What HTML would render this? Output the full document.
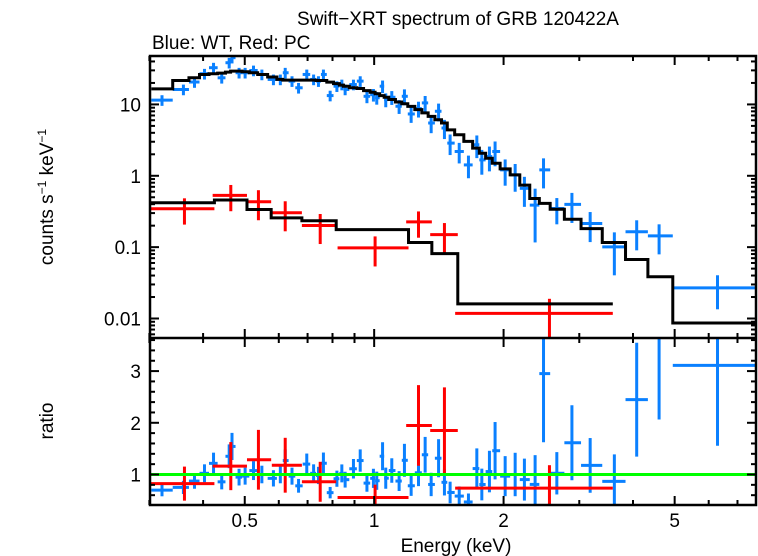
<!DOCTYPE html>
<html><head><meta charset="utf-8"><style>
html,body{margin:0;padding:0;background:#fff;}
svg{display:block;font-family:"Liberation Sans",sans-serif;}
</style></head><body>
<svg id="chart" width="758" height="556" viewBox="0 0 758 556" xmlns="http://www.w3.org/2000/svg">
<text x="458" y="25" font-size="19" text-anchor="middle">Swift−XRT spectrum of GRB 120422A</text>
<text x="152" y="49" font-size="19">Blue: WT, Red: PC</text>
<text transform="translate(53,197) rotate(-90)" font-size="19" text-anchor="middle">counts s<tspan font-size="12" dy="-7">−1</tspan><tspan dy="7"> keV</tspan><tspan font-size="12" dy="-7">−1</tspan></text>
<text transform="translate(53,421) rotate(-90)" font-size="19" text-anchor="middle">ratio</text>
<text x="456" y="552" font-size="19" text-anchor="middle">Energy (keV)</text>
<g id="plot"></g>
</svg>
<script>
// Blue (WT) data: energy centers (keV), counts, relative errors, model
const blueEnergy=[0.321,0.360,0.382,0.403,0.423,0.442,0.460,0.467,0.485,0.501,0.524,0.548,0.583,0.605,0.621,0.644,0.667,0.697,0.723,0.742,0.762,0.790,0.819,0.841,0.856,0.895,0.928,0.962,0.996,1.014,1.046,1.064,1.099,1.143,1.176,1.219,1.268,1.314,1.357,1.412,1.457,1.502,1.577,1.657,1.733,1.780,1.854,1.911,2.017,2.128,2.236,2.368,2.477,2.66,2.884,3.18,3.62,4.08,4.60,6.29];
const blueCounts=[11.5,16.2,20.6,26.9,32.7,23.6,38.4,45.2,27.8,27.8,29.9,26.3,22.4,22.4,27.8,21.2,17.1,26.3,22.4,21.2,26.3,13.3,18.0,19.0,16.2,19.0,21.2,13.0,13.7,12.4,18.0,11.7,12.6,9.43,13.0,7.35,8.73,10.5,5.49,8.02,4.67,2.87,2.19,1.42,2.72,1.67,1.86,2.19,1.21,1.03,0.667,0.388,1.21,0.348,0.397,0.214,0.1007,0.164,0.144,0.0269];
const blueRelErr=[0.17,0.17,0.17,0.17,0.17,0.17,0.17,0.17,0.17,0.17,0.17,0.17,0.17,0.17,0.17,0.17,0.17,0.17,0.17,0.17,0.17,0.17,0.17,0.17,0.17,0.17,0.17,0.2,0.2,0.2,0.2,0.22,0.22,0.22,0.25,0.25,0.25,0.25,0.28,0.28,0.3,0.32,0.32,0.35,0.35,0.38,0.38,0.38,0.4,0.42,0.45,0.7,0.45,0.4,0.45,0.45,0.6,0.45,0.45,0.5];
const blueModel=[16.5,21.6,23.6,26.3,26.9,27.5,28.4,29.3,29.3,28.7,27.8,26.3,24.2,22.4,21.9,21.9,21.9,21.9,21.9,21.6,21.6,20.5,19.6,18.6,18.0,17.1,16.7,15.6,14.8,14.1,13.3,12.6,11.7,10.8,10.2,9.4,8.45,7.6,6.8,6.1,5.5,4.4,3.76,3.03,2.44,2.07,1.76,1.50,1.25,1.03,0.74,0.48,0.41,0.34,0.246,0.182,0.116,0.067,0.0384,0.00865];
const blueLastBinLo=4.95;
// Red (PC) data
const redLo=[0.300,0.421,0.506,0.578,0.679,0.822,1.187,1.350,1.543];
const redHi=[0.425,0.506,0.576,0.679,0.816,1.202,1.362,1.565,3.59];
const redEnergy=[0.362,0.464,0.538,0.621,0.749,1.005,1.268,1.457,2.557];
const redCounts=[0.345,0.531,0.433,0.303,0.201,0.0975,0.226,0.150,0.0118];
const redRelErr=[0.4,0.4,0.45,0.45,0.45,0.45,0.4,0.45,0.6];
const redModelLo=[0.300,0.425,0.506,0.576,0.679,0.816,1.202,1.362,1.565];
const redModelHi=[0.425,0.506,0.576,0.679,0.816,1.202,1.362,1.565,3.59];
const redModel=[0.419,0.457,0.337,0.257,0.234,0.176,0.116,0.081,0.016];
const xTicksMajor=[0.5,1,2,5];
const xTickLabels=["0.5","1","2","5"];
const xTicksMinor=[0.3,0.4,0.6,0.7,0.8,0.9,3,4,6,7];
const yTopLabels=["10","1","0.1","0.01"];
const yTopTicks=[10,1,0.1,0.01];
const yRatioTicks=[1,2,3];
const yRatioLabels=["1","2","3"];

const L=150,R=756,T=56,M=338,B=505;
const xLogMin=Math.log10(0.301),xLogMax=Math.log10(7.73);
const X=e=>L+(Math.log10(e)-xLogMin)/(xLogMax-xLogMin)*(R-L);
const yLogMin=Math.log10(0.00533),yLogMax=Math.log10(47.7);
const YT=v=>M-(Math.log10(v)-yLogMin)/(yLogMax-yLogMin)*(M-T);
const rMin=0.41,rMax=3.64;
const YR=v=>B-(v-rMin)/(rMax-rMin)*(B-M);
const NS="http://www.w3.org/2000/svg";
const plot=document.getElementById('plot');
function mk(tag,at,parent){const el=document.createElementNS(NS,tag);for(const k in at)el.setAttribute(k,at[k]);(parent||plot).appendChild(el);return el;}
function ln(x1,y1,x2,y2,c,w,p){return mk('line',{x1,y1,x2,y2,stroke:c,'stroke-width':w},p);}
const clipT=mk('clipPath',{id:'ct'});mk('rect',{x:L,y:T,width:R-L,height:M-T},clipT);
const clipB=mk('clipPath',{id:'cb'});mk('rect',{x:L,y:M,width:R-L,height:B-M},clipB);
const gT=mk('g',{'clip-path':'url(#ct)'});


const gB=mk('g',{'clip-path':'url(#cb)'});



const n=blueEnergy.length;const bLo=[],bHi=[];
for(let i=0;i<n;i++){
  let lo=i>0?Math.sqrt(blueEnergy[i-1]*blueEnergy[i]):blueEnergy[0]*blueEnergy[0]/Math.sqrt(blueEnergy[0]*blueEnergy[1]);
  let hi=i<n-1?Math.sqrt(blueEnergy[i]*blueEnergy[i+1]):8;
  if(i===n-1)lo=blueLastBinLo;
  if(i===n-2)hi=blueLastBinLo;
  bLo.push(lo);bHi.push(hi);
}
function stepPath(lo,hi,vals,Y){let d='';for(let i=0;i<vals.length;i++){const y=Y(vals[i]);d+=(i===0?'M':'L')+X(lo[i])+','+y+'L'+X(hi[i])+','+y;}return d;}
const BLUE='#0a80ff',RED='#ff0000';
for(let i=0;i<n;i++){
  const g=mk('g',{},gT);
  
  
  const v=blueCounts[i],e=blueRelErr[i]*v,y=YT(v),x=X(blueEnergy[i]);
  ln(X(bLo[i]),y,X(bHi[i]),y,BLUE,3,g);
  ln(x,YT(v+e),x,YT(Math.max(v-e,1e-4)),BLUE,3,g);
  const r=v/blueModel[i],re=blueRelErr[i]*r,yr=YR(r);
  const g2=mk('g',{},gB);
  
  
  ln(X(bLo[i]),yr,X(bHi[i]),yr,BLUE,3,g2);
  ln(x,YR(r+re),x,YR(r-re),BLUE,3,g2);
}
for(let i=0;i<redEnergy.length;i++){
  const g=mk('g',{},gT);
  
  
  const v=redCounts[i],e=redRelErr[i]*v,y=YT(v),x=X(redEnergy[i]);
  ln(X(redLo[i]),y,X(redHi[i]),y,RED,3,g);
  ln(x,YT(v+e),x,YT(Math.max(v-e,1e-4)),RED,3,g);
  const r=v/redModel[i],re=redRelErr[i]*r,yr=YR(r);
  const g2=mk('g',{},gB);
  
  
  ln(X(redLo[i]),yr,X(redHi[i]),yr,RED,3,g2);
  ln(x,YR(r+re),x,YR(r-re),RED,3,g2);
}
const bm=mk('path',{d:stepPath(bLo,bHi,blueModel,YT),fill:'none',stroke:'#000','stroke-width':3},gT);


const rm=mk('path',{d:stepPath(redModelLo,redModelHi,redModel,YT),fill:'none',stroke:'#000','stroke-width':3},gT);


const gl=ln(L,YR(1),R,YR(1),'#00ff00',3,gB);



const ax=mk('g',{});


mk('rect',{x:L,y:T,width:R-L,height:B-T,fill:'none',stroke:'#000','stroke-width':2.5},ax);
ln(L,M,R,M,'#000',2.5,ax);
function xt(e,len){const x=X(e);
  ln(x,T,x,T+len,'#000',2,ax);ln(x,M,x,M-len,'#000',2,ax);
  ln(x,M,x,M+len,'#000',2,ax);ln(x,B,x,B-len,'#000',2,ax);}
xTicksMajor.forEach((e,i)=>{xt(e,9);
  const t=mk('text',{x:X(e),y:B+22,'font-size':19,'text-anchor':'middle'},ax);t.textContent=xTickLabels[i];
  
  });
xTicksMinor.forEach(e=>xt(e,5));
for(let d=-3;d<=1;d++){for(let k=1;k<=9;k++){const v=k*Math.pow(10,d);if(v<0.00533||v>47.7)continue;
  const y=YT(v),len=k===1?9:5;ln(L,y,L+len,y,'#000',2,ax);ln(R,y,R-len,y,'#000',2,ax);}}
yTopTicks.forEach((v,i)=>{const t=mk('text',{x:L-9,y:YT(v)+7,'font-size':19,'text-anchor':'end'},ax);t.textContent=yTopLabels[i];
  
  });
for(let k=5;k<=36;k++){const v=k/10;if(k%2&&k%10)continue;const y=YR(v),len=(k%10===0)?9:5;
  ln(L,y,L+len,y,'#000',2,ax);ln(R,y,R-len,y,'#000',2,ax);}
yRatioTicks.forEach((v,i)=>{const t=mk('text',{x:L-9,y:YR(v)+7,'font-size':19,'text-anchor':'end'},ax);t.textContent=yRatioLabels[i];
  
  });
</script>
</body></html>
